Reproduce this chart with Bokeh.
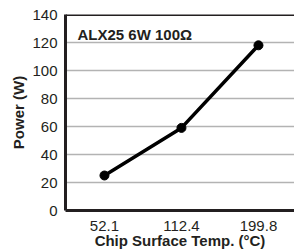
from bokeh.plotting import figure
from bokeh.models import Range1d, FixedTicker, Label, Span
from bokeh.embed import file_html
from bokeh.resources import INLINE

# Data
temps = ["52.1", "112.4", "199.8"]
power = [25, 59, 118]
y_ticks = [0, 20, 40, 60, 80, 100, 120, 140]
title_text = "ALX25 6W 100Ω"

xs = list(range(len(temps)))

FONT = "Liberation Sans"

p = figure(width=294, height=252, output_backend="svg", toolbar_location=None,
           x_range=Range1d(-0.506, 2.468), y_range=Range1d(0, 140),
           min_border_left=65, min_border_right=0, min_border_top=14, min_border_bottom=42)

p.background_fill_color = "white"
p.border_fill_color = "white"
p.outline_line_color = None

p.xgrid.visible = False
p.ygrid.grid_line_color = "#b3b3b3"
p.ygrid.grid_line_width = 1.5
p.ygrid.ticker = FixedTicker(ticks=y_ticks)

p.add_layout(Span(location=140, dimension="width", line_color="#231f20", line_width=3))

p.line(xs, power, line_color="black", line_width=3.5)
p.scatter(xs, power, size=9, fill_color="black", line_color="black")

p.xaxis.ticker = FixedTicker(ticks=xs)
p.xaxis.major_label_overrides = {i: t for i, t in zip(xs, temps)}
p.yaxis.ticker = FixedTicker(ticks=y_ticks)

for ax in (p.xaxis[0], p.yaxis[0]):
    ax.axis_line_color = "#231f20"
    ax.axis_line_width = 3
    ax.major_tick_line_color = None
    ax.minor_tick_line_color = None
    ax.major_tick_out = 0
    ax.major_tick_in = 0
    ax.major_label_text_font = FONT
    ax.major_label_text_font_size = "15px"
    ax.major_label_text_color = "#231f20"
    ax.axis_label_text_font = FONT
    ax.axis_label_text_font_size = "15px"
    ax.axis_label_text_font_style = "bold"
    ax.axis_label_text_color = "#231f20"

p.xaxis.axis_label = "Chip Surface Temp. (°C)"
p.yaxis.axis_label = "Power (W)"
p.xaxis.major_label_standoff = 10
p.yaxis.major_label_standoff = 8
p.xaxis.axis_label_standoff = -2
p.yaxis.axis_label_standoff = 2

p.add_layout(Label(x=-0.35, y=126, text=title_text, text_font=FONT,
                   text_font_size="15px", text_font_style="bold",
                   text_color="#231f20", text_baseline="alphabetic"))

open("out.html", "w").write(file_html(p, INLINE))
